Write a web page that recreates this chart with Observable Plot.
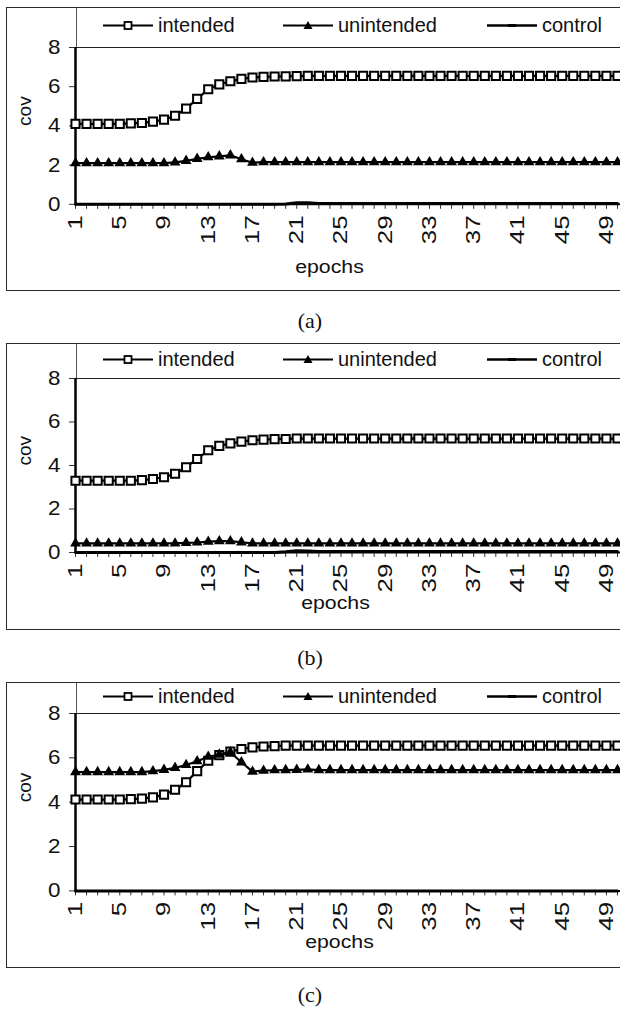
<!DOCTYPE html>
<html><head><meta charset="utf-8">
<script src="https://cdn.jsdelivr.net/npm/d3@7"></script>
<script src="https://cdn.jsdelivr.net/npm/@observablehq/plot@0.6"></script>
<style>
html,body{margin:0;padding:0;background:#fff;overflow:hidden;width:620px;height:1009px;position:relative;}
.frame{position:absolute;left:6px;width:720px;border:1.5px solid #2a2a2a;box-sizing:border-box;z-index:3;pointer-events:none;}
.legend{position:absolute;left:76px;width:560px;border-left:1px solid #555;box-sizing:border-box;z-index:2;font-family:Arial,"Liberation Sans",sans-serif;font-size:20px;color:#111;}
.item{position:absolute;display:flex;align-items:center;white-space:nowrap;transform:translateY(-50%);}
.item svg{margin-right:5px;}
.chart{position:absolute;left:0;z-index:1;}
.caption{position:absolute;width:620px;left:0;text-align:center;font-family:"Times New Roman","Liberation Serif",serif;font-size:22px;color:#111;transform:translateY(-50%);}
</style>
</head><body>
<script>
const epochs = d3.range(1, 51);
const xTickLabels = [1, 5, 9, 13, 17, 21, 25, 29, 33, 37, 41, 45, 49];
const yTicks = [0, 2, 4, 6, 8];
const yDomain = [0, 8];
const seriesNames = ["intended", "unintended", "control"];
const panelLabels = ["(a)", "(b)", "(c)"];

const intendedA = [4.1,4.1,4.1,4.1,4.1,4.13,4.15,4.22,4.32,4.52,4.88,5.38,5.87,6.12,6.28,6.4,6.47,6.5,6.52,6.53,
  6.54,6.55,6.55,6.55,6.55,6.55,6.55,6.55,6.55,6.55,6.55,6.55,6.55,6.55,6.55,6.55,6.55,6.55,6.55,6.55,
  6.55,6.55,6.55,6.55,6.55,6.55,6.55,6.55,6.55,6.55];
const unintendedA = [2.1,2.1,2.1,2.1,2.1,2.1,2.1,2.1,2.1,2.14,2.22,2.32,2.4,2.45,2.5,2.3,2.12,2.15,2.15,2.15,
  2.15,2.15,2.15,2.15,2.15,2.15,2.15,2.15,2.15,2.15,2.15,2.15,2.15,2.15,2.15,2.15,2.15,2.15,2.15,2.15,
  2.15,2.15,2.15,2.15,2.15,2.15,2.15,2.15,2.15,2.15];
const controlA = [0,0,0,0,0,0,0,0,0,0,0,0,0,0,0,0,0,0,0,0.01,
  0.08,0.08,0.04,0.04,0.04,0.04,0.04,0.04,0.04,0.04,0.04,0.04,0.04,0.04,0.04,0.04,0.04,0.04,0.04,0.04,
  0.04,0.04,0.04,0.04,0.04,0.04,0.04,0.04,0.04,0.04];

const intendedB = [3.3,3.3,3.3,3.3,3.3,3.3,3.33,3.38,3.46,3.62,3.92,4.3,4.7,4.9,5.02,5.1,5.16,5.19,5.21,5.22,
  5.24,5.24,5.24,5.24,5.24,5.24,5.24,5.24,5.24,5.24,5.24,5.24,5.24,5.24,5.24,5.24,5.24,5.24,5.24,5.24,
  5.24,5.24,5.24,5.24,5.24,5.24,5.24,5.24,5.24,5.24];
const unintendedB = [0.42,0.42,0.42,0.42,0.42,0.42,0.42,0.42,0.42,0.42,0.44,0.46,0.5,0.52,0.52,0.47,0.42,0.42,0.42,0.42,
  0.42,0.42,0.42,0.42,0.42,0.42,0.42,0.42,0.42,0.42,0.42,0.42,0.42,0.42,0.42,0.42,0.42,0.42,0.42,0.42,
  0.42,0.42,0.42,0.42,0.42,0.42,0.42,0.42,0.42,0.42];
const controlB = [0,0,0,0,0,0,0,0,0,0,0,0,0,0,0,0,0,0,0,0.03,
  0.08,0.07,0.04,0.04,0.04,0.04,0.04,0.04,0.04,0.04,0.04,0.04,0.04,0.04,0.04,0.04,0.04,0.04,0.04,0.04,
  0.04,0.04,0.04,0.04,0.04,0.04,0.04,0.04,0.04,0.04];

const intendedC = [4.12,4.12,4.12,4.12,4.12,4.14,4.16,4.22,4.34,4.56,4.9,5.4,5.87,6.12,6.28,6.4,6.47,6.51,6.53,6.55,
  6.55,6.55,6.55,6.55,6.55,6.55,6.55,6.55,6.55,6.55,6.55,6.55,6.55,6.55,6.55,6.55,6.55,6.55,6.55,6.55,
  6.55,6.55,6.55,6.55,6.55,6.55,6.55,6.55,6.55,6.55];
const unintendedC = [5.36,5.36,5.36,5.36,5.36,5.36,5.36,5.4,5.46,5.55,5.68,5.85,6.05,6.15,6.25,5.8,5.38,5.42,5.44,5.45,
  5.46,5.48,5.45,5.45,5.45,5.45,5.45,5.45,5.45,5.45,5.45,5.45,5.45,5.45,5.45,5.45,5.45,5.45,5.45,5.45,
  5.45,5.45,5.45,5.45,5.45,5.45,5.45,5.45,5.45,5.45];
const controlC = [0,0,0,0,0,0,0,0,0,0,0,0,0,0,0,0,0,0,0,0,
  0,0,0,0,0,0,0,0,0,0,0,0,0,0,0,0,0,0,0,0,
  0,0,0,0,0,0,0,0,0,0];

const panelSeries = [
  [intendedA, unintendedA, controlA],
  [intendedB, unintendedB, controlB],
  [intendedC, unintendedC, controlC]
];

// layout (page pixels)
const layouts = [
  {frameTop: 6.5, plotTop: 46.5, plotBottom: 203.3, frameBottom: 291, epochsY: 272, epochsX: 329, legendY: 25, captionY: 321},
  {frameTop: 342.5, plotTop: 378.3, plotBottom: 552.3, frameBottom: 629.5, epochsY: 609, epochsX: 335, legendY: 359, captionY: 658},
  {frameTop: 681.5, plotTop: 713.3, plotBottom: 890.7, frameBottom: 967.5, epochsY: 948, epochsX: 339, legendY: 696, captionY: 995}
];

const FONT = 'Arial, "Liberation Sans", sans-serif';

function swatch(kind) {
  const ns = "http://www.w3.org/2000/svg";
  const s = document.createElementNS(ns, "svg");
  s.setAttribute("width", 50); s.setAttribute("height", 14);
  let html = `<line x1="0" x2="50" y1="7" y2="7" stroke="#000" stroke-width="${kind === 2 ? 2.5 : 2}"/>`;
  if (kind === 0) html += `<rect x="21.5" y="3.5" width="7" height="7" fill="#fff" stroke="#000" stroke-width="1.8"/>`;
  if (kind === 1) html += `<path d="M25,2.5 L29.5,10.5 L20.5,10.5 Z" fill="#000"/>`;
  if (kind === 2) html += `<rect x="21" y="5.5" width="8" height="3" fill="#000"/>`;
  s.innerHTML = html;
  return s;
}

function stretchTexts(nodes, k) {
  nodes.forEach((t) => {
    const tr = t.getAttribute("transform");
    if (tr) t.setAttribute("transform", tr + ` scale(${k},1)`);
  });
}

const itemLeft = [26, 206, 410];

layouts.forEach((L, p) => {
  const [intended, unintended, control] = panelSeries[p];
  const rows = (arr) => epochs.map((e, i) => ({epoch: e, value: arr[i]}));

  const frame = document.createElement("div");
  frame.className = "frame";
  frame.style.top = L.frameTop + "px";
  frame.style.height = (L.frameBottom - L.frameTop) + "px";
  document.body.appendChild(frame);

  const leg = document.createElement("div");
  leg.className = "legend";
  leg.style.top = L.frameTop + "px";
  leg.style.height = (L.plotTop - L.frameTop) + "px";
  seriesNames.forEach((name, k) => {
    const it = document.createElement("div");
    it.className = "item";
    it.style.left = itemLeft[k] + "px";
    it.style.top = (L.legendY - L.frameTop) + "px";
    it.appendChild(swatch(k));
    const t = document.createElement("span");
    t.textContent = name;
    it.appendChild(t);
    leg.appendChild(it);
  });
  document.body.appendChild(leg);

  const mTop = 13;
  const svgTop = L.plotTop - mTop;
  const H = L.frameBottom - 1.5 - svgTop;
  const plotH = L.plotBottom - L.plotTop;
  const mBottom = H - mTop - plotH;

  const chart = Plot.plot({
    width: 620,
    height: H,
    marginLeft: 75,
    marginRight: 0,
    marginTop: mTop,
    marginBottom: mBottom,
    style: {background: "transparent", fontFamily: FONT, color: "#111", overflow: "hidden"},
    x: {domain: [1, 50], range: [75, 617]},
    y: {domain: yDomain},
    marks: [
      Plot.ruleY([yDomain[1]], {stroke: "#222", strokeWidth: 1.2}),
      Plot.axisX({ticks: epochs, tickSize: 5, tickFormat: () => "", label: null, stroke: "#333"}),
      Plot.axisX({ticks: xTickLabels, tickSize: 0, tickRotate: -90, tickPadding: 11, fontSize: 20, label: null, fill: "#111"}),
      Plot.axisY({ticks: yTicks, tickSize: 6, tickPadding: 9, fontSize: 20, label: null, stroke: "#333", fill: "#111"}),
      Plot.ruleY([yDomain[0]], {stroke: "#000", strokeWidth: 2}),
      Plot.ruleX([1], {y1: yDomain[0], y2: yDomain[1], stroke: "#000", strokeWidth: 2.5}),
      Plot.line(rows(intended), {x: "epoch", y: "value", stroke: "#000", strokeWidth: 2.2}),
      Plot.dot(rows(intended), {x: "epoch", y: "value", symbol: "square", r: 4.6, fill: "#fff", stroke: "#000", strokeWidth: 2}),
      Plot.line(rows(unintended), {x: "epoch", y: "value", stroke: "#000", strokeWidth: 2.2}),
      Plot.dot(rows(unintended), {x: "epoch", y: "value", symbol: "triangle", r: 4, fill: "#000", stroke: "none"}),
      Plot.line(rows(control), {x: "epoch", y: "value", stroke: "#000", strokeWidth: 3}),
      Plot.text(["cov"], {frameAnchor: "left", rotate: -90, dx: -51, fontSize: 19, fill: "#111"}),
      Plot.text(["epochs"], {frameAnchor: "bottom", dx: L.epochsX - 347.5, dy: L.epochsY - L.plotBottom, fontSize: 19, fill: "#111"})
    ]
  });
  stretchTexts(chart.querySelectorAll('g[aria-label="x-axis tick label"] text'), 1.3);
  stretchTexts(chart.querySelectorAll('g[aria-label="y-axis tick label"] text'), 1.12);
  const textGroups = chart.querySelectorAll('g[aria-label="text"]');
  if (textGroups.length > 1) stretchTexts(textGroups[1].querySelectorAll("text"), 1.12);
  chart.classList.add("chart");
  chart.style.top = svgTop + "px";
  document.body.appendChild(chart);

  const cap = document.createElement("div");
  cap.className = "caption";
  cap.style.top = L.captionY + "px";
  cap.textContent = panelLabels[p];
  document.body.appendChild(cap);
});
</script>
</body></html>
